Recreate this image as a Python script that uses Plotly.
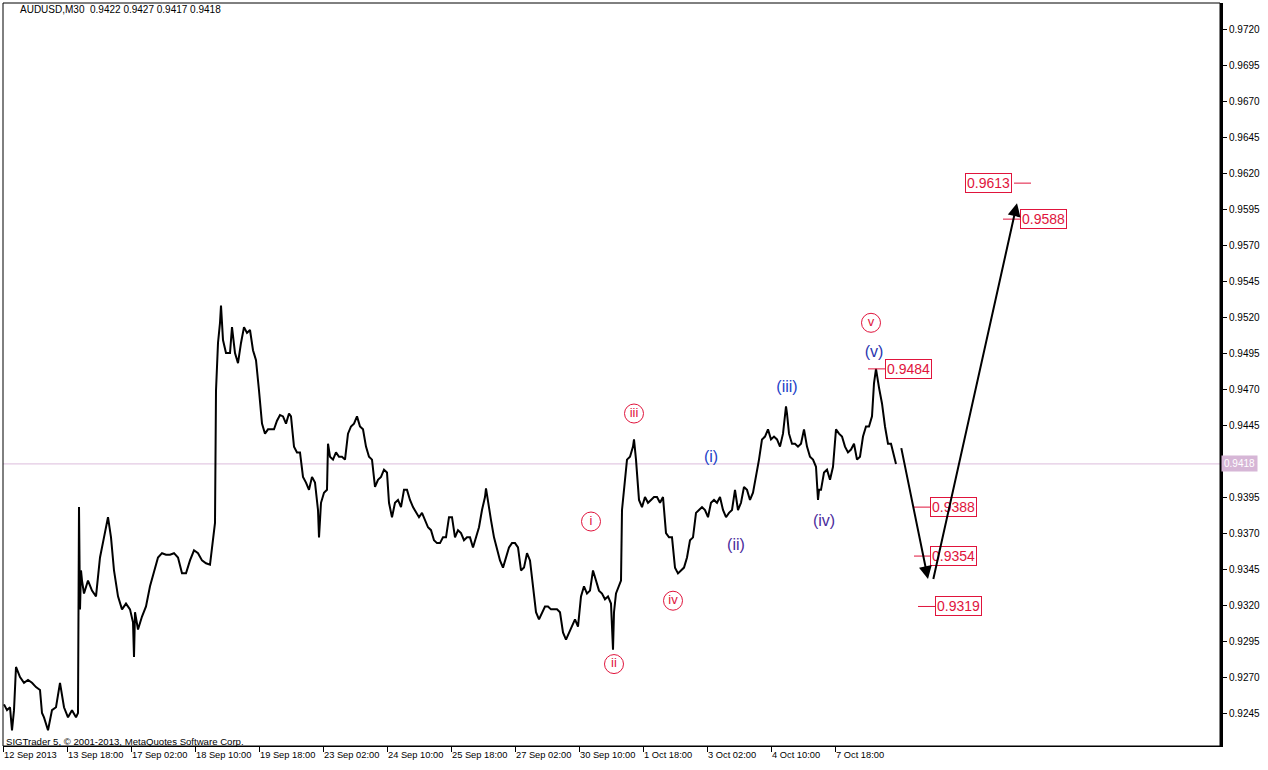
import plotly.graph_objects as go

# ---------------- data (AUDUSD M30) ----------------
# bar number (one bar = 30 minutes, counted from the left edge) and price
bars = [
    1, 4, 7, 9, 11, 13, 17, 21, 25, 29, 33, 37, 39, 41, 45, 49, 53, 57, 61, 65, 69, 73, 75,
    76, 77, 78, 79, 81, 85, 89, 93, 97, 101, 105, 108, 111, 115, 119, 123, 127, 130, 131, 132,
    135, 139, 143, 147, 151, 155, 159, 163, 167, 171, 175, 179, 183, 187, 191, 195, 199, 203,
    207, 210, 212,
    213, 215, 217, 218, 220, 223, 227, 229, 232, 235, 238, 241, 244, 247, 250, 253, 256, 259,
    262, 265, 268, 271, 274, 277, 280, 283, 286, 288, 291, 294, 297, 300, 303, 306, 309, 312,
    315, 316, 318, 321, 324, 325, 327, 330, 333, 336, 339, 342, 345, 348, 351, 354, 357, 360,
    363, 366, 369, 372, 375, 378, 381, 384, 386, 389, 392, 395, 398, 401, 404, 407, 410, 413,
    416, 419, 422, 425, 428, 431, 434, 437, 440, 443, 446, 449, 452, 455, 458, 461, 464, 467,
    470, 473, 476, 479, 482, 483, 485, 488, 491, 494, 497, 500, 503, 506, 509, 512, 515, 518,
    521, 524, 527, 530, 533, 536, 539, 542, 545, 548, 551, 554, 557, 560, 563, 566, 569, 572,
    575, 578, 581, 584, 587, 590, 593, 596, 599, 602, 605, 608, 610, 611, 613, 616, 618, 619,
    621, 624, 627, 630, 631, 633, 636, 639, 642, 645, 648, 651, 654, 657, 660, 663, 666, 669,
    672, 675, 678, 681, 684, 687, 690, 693, 696, 699, 702, 705, 708, 711, 714, 717, 720, 723,
    726, 729, 732, 735, 738, 741, 744, 747, 750, 753, 756, 759, 762, 765, 768, 771, 774, 777,
    780, 783, 784, 786, 789, 792, 795, 798, 801, 804, 807, 810, 813, 815, 816, 818, 821, 824,
    827, 830, 833, 836, 839, 842, 845, 848, 851, 854, 857, 860, 863, 866, 869, 871, 873, 876,
    879, 882, 885, 888, 891, 893,
]
price = [
    0.9251, 0.9247, 0.9249, 0.9233, 0.9247, 0.9277, 0.9270, 0.9266, 0.9268, 0.9266, 0.9263,
    0.9261, 0.9245, 0.9242, 0.9233, 0.9247, 0.9249, 0.9266, 0.9249, 0.9242, 0.9247, 0.9242,
    0.9245,
    0.9388, 0.9317, 0.9344, 0.9337, 0.9328, 0.9337, 0.9330, 0.9326, 0.9353, 0.9367, 0.9381,
    0.9367, 0.9344, 0.9326, 0.9317, 0.9321, 0.9317, 0.9308, 0.9284, 0.9315, 0.9303, 0.9312,
    0.9319, 0.9333, 0.9344, 0.9353, 0.9356, 0.9355, 0.9355, 0.9356, 0.9353, 0.9342, 0.9342,
    0.9351, 0.9358, 0.9356, 0.9351, 0.9349, 0.9348, 0.9365, 0.9377,
    0.9469, 0.9502, 0.9516, 0.9528, 0.9504, 0.9495, 0.9495, 0.9513, 0.9495, 0.9488, 0.9502,
    0.9513, 0.9509, 0.9511, 0.9497, 0.9490, 0.9469, 0.9446, 0.9439, 0.9442, 0.9442, 0.9442,
    0.9448, 0.9452, 0.9451, 0.9446, 0.9453, 0.9451, 0.9430, 0.9426, 0.9426, 0.9409, 0.9405,
    0.9400, 0.9409, 0.9405, 0.9386, 0.9367, 0.9391, 0.9398, 0.9400, 0.9432, 0.9423, 0.9421,
    0.9426, 0.9423, 0.9423, 0.9421, 0.9439, 0.9444, 0.9446, 0.9451, 0.9444, 0.9442, 0.9430,
    0.9423, 0.9421, 0.9402, 0.9407, 0.9409, 0.9414, 0.9412, 0.9391, 0.9381, 0.9391, 0.9393,
    0.9388, 0.9400, 0.9400, 0.9393, 0.9388, 0.9384, 0.9381, 0.9384, 0.9379, 0.9374, 0.9372,
    0.9365, 0.9363, 0.9363, 0.9367, 0.9367, 0.9381, 0.9381, 0.9367, 0.9372, 0.9370, 0.9365,
    0.9367, 0.9367, 0.9360, 0.9367, 0.9374, 0.9386, 0.9395, 0.9401, 0.9391, 0.9379, 0.9367,
    0.9358, 0.9351, 0.9346, 0.9353, 0.9360, 0.9363, 0.9363, 0.9360, 0.9344, 0.9346, 0.9356,
    0.9351, 0.9333, 0.9315, 0.9310, 0.9315, 0.9319, 0.9319, 0.9317, 0.9317, 0.9317, 0.9315,
    0.9301, 0.9296, 0.9301, 0.9305, 0.9310, 0.9305, 0.9326, 0.9333, 0.9328, 0.9330, 0.9344,
    0.9337, 0.9330, 0.9328, 0.9324, 0.9326, 0.9321, 0.9289, 0.9315, 0.9328, 0.9333, 0.9337,
    0.9386, 0.9400, 0.9421, 0.9423, 0.9430, 0.9435, 0.9421, 0.9393, 0.9388, 0.9395, 0.9391,
    0.9393, 0.9395, 0.9395, 0.9391, 0.9395, 0.9370, 0.9367, 0.9367, 0.9346, 0.9342, 0.9344,
    0.9346, 0.9353, 0.9365, 0.9367, 0.9384, 0.9386, 0.9388, 0.9386, 0.9381, 0.9391, 0.9393,
    0.9391, 0.9395, 0.9386, 0.9381, 0.9384, 0.9386, 0.9400, 0.9386, 0.9391, 0.9402, 0.9400,
    0.9393, 0.9398, 0.9409, 0.9421, 0.9435, 0.9437, 0.9442, 0.9435, 0.9437, 0.9435, 0.9430,
    0.9439, 0.9458, 0.9453, 0.9439, 0.9432, 0.9432, 0.9430, 0.9432, 0.9442, 0.9430, 0.9423,
    0.9421, 0.9416, 0.9393, 0.9400, 0.9400, 0.9412, 0.9414, 0.9407, 0.9416, 0.9442, 0.9439,
    0.9437, 0.9430, 0.9426, 0.9428, 0.9432, 0.9421, 0.9423, 0.9437, 0.9444, 0.9444, 0.9451,
    0.9474, 0.9484, 0.9471, 0.9460, 0.9444, 0.9432, 0.9432, 0.9423, 0.9418,
]

last_price = 0.9418
title_text = "AUDUSD,M30  0.9422 0.9427 0.9417 0.9418"
footer_text = "SIGTrader 5, \u00a9 2001-2013, MetaQuotes Software Corp."

time_labels = ["12 Sep 2013", "13 Sep 18:00", "17 Sep 02:00", "18 Sep 10:00", "19 Sep 18:00",
               "23 Sep 02:00", "24 Sep 10:00", "25 Sep 18:00", "27 Sep 02:00", "30 Sep 10:00",
               "1 Oct 18:00", "3 Oct 02:00", "4 Oct 10:00", "7 Oct 18:00"]
bars_per_label = 64
price_ticks = [0.9245, 0.9270, 0.9295, 0.9320, 0.9345, 0.9370, 0.9395, 0.9445, 0.9470,
               0.9495, 0.9520, 0.9545, 0.9570, 0.9595, 0.9620, 0.9645, 0.9670, 0.9695, 0.9720]

# Elliott wave labels (minor, red circled) and (minute, blue)
minor_labels = ["i", "ii", "iii", "iv", "v"]
minor_bar = [588, 611, 631, 670, 868]
minor_price = [0.9378, 0.9279, 0.9453, 0.9323, 0.9516]

minute_labels = ["(i)", "(ii)", "(iii)", "(iv)", "(v)"]
minute_bar = [708, 733, 784, 821, 871]
minute_price = [0.9422, 0.9361, 0.9471, 0.9378, 0.9495]
minute_colors = ["#2442c8", "#4b2c9c", "#2442c8", "#4b2c9c", "#2a37b0"]

# target levels: price, start/end bar of the tick line, bar of the label box's left edge
level_price = [0.9484, 0.9613, 0.9588, 0.9388, 0.9354, 0.9319]
level_line_from = [865, 1011, 1000, 911, 911, 915]
level_line_to = [882, 1028, 1017, 927, 927, 932]
level_box_left = [882, 962, 1017, 927, 927, 932]

# projected path (two arrows)
proj_down_bar = [898, 925]
proj_down_price = [0.9430, 0.9338]
proj_up_bar = [930, 1014]
proj_up_price = [0.9337, 0.9599]

# ---------------- figure ----------------
RED = "#e0143c"
FONT = "Liberation Sans"
y_min, y_max = 0.92221, 0.97381
x_min, x_max = 0, 1217

fig = go.Figure()
fig.add_trace(go.Scatter(x=bars, y=price, mode="lines",
                         line=dict(color="black", width=2), hoverinfo="skip"))

# minor wave circles
fig.add_trace(go.Scatter(x=minor_bar, y=minor_price, mode="markers+text",
                         marker=dict(symbol="circle-open", size=19, color=RED,
                                     line=dict(width=1, color=RED)),
                         text=minor_labels, textposition="middle center",
                         textfont=dict(family=FONT, size=13, color=RED), hoverinfo="skip"))
# minute wave labels
fig.add_trace(go.Scatter(x=minute_bar, y=minute_price, mode="text",
                         text=minute_labels, textposition="middle center",
                         textfont=dict(family=FONT, size=16, color=minute_colors),
                         hoverinfo="skip"))

shapes = []
annotations = []
# last price line
shapes.append(dict(type="line", xref="paper", yref="y", x0=0, x1=1, y0=last_price, y1=last_price,
                   line=dict(color="#dcbcdc", width=1), layer="below"))
# frame
shapes.append(dict(type="rect", xref="paper", yref="paper", x0=0, x1=1, y0=0, y1=1,
                   line=dict(color="black", width=1)))

for p, a, b, bl in zip(level_price, level_line_from, level_line_to, level_box_left):
    shapes.append(dict(type="line", xref="x", yref="y", x0=a, x1=b, y0=p, y1=p,
                       line=dict(color=RED, width=1)))
    annotations.append(dict(x=bl, y=p, xref="x", yref="y", text=f"{p:.4f}", showarrow=False,
                            xanchor="left", yanchor="middle",
                            font=dict(family=FONT, size=14, color=RED),
                            bordercolor=RED, borderwidth=1, borderpad=1, bgcolor="white"))

for bx, py in ((proj_down_bar, proj_down_price), (proj_up_bar, proj_up_price)):
    annotations.append(dict(x=bx[1], y=py[1], ax=bx[0], ay=py[0], xref="x", yref="y",
                            axref="x", ayref="y", text="", showarrow=True, arrowhead=2,
                            arrowsize=1.3, arrowwidth=2, arrowcolor="black", standoff=0))

annotations.append(dict(x=15 / 1217, y=0.9906, xref="paper", yref="paper", text=title_text,
                        showarrow=False, xanchor="left", yanchor="middle",
                        font=dict(family=FONT, size=10, color="black")))
annotations.append(dict(x=0.0005, y=0.0065, xref="paper", yref="paper", text=footer_text,
                        showarrow=False, xanchor="left", yanchor="middle",
                        font=dict(family=FONT, size=9.6, color="black")))
annotations.append(dict(x=1.0, y=last_price, xref="paper", yref="y", text=f"{last_price:.4f}",
                        showarrow=False, xanchor="left", yanchor="middle", xshift=1,
                        font=dict(family=FONT, size=10, color="white"),
                        bgcolor="#d6b6d6", borderpad=2))

fig.update_layout(
    width=1268, height=770,
    margin=dict(l=3, r=48, t=3, b=24, autoexpand=False),
    paper_bgcolor="white", plot_bgcolor="white",
    showlegend=False,
    shapes=shapes, annotations=annotations,
    xaxis=dict(range=[x_min, x_max], showgrid=False, zeroline=False,
               tickvals=[i * bars_per_label for i in range(len(time_labels))],
               ticktext=time_labels, ticks="outside", ticklen=5, tickcolor="black",
               ticklabelposition="outside right", tickangle=0, automargin=False,
               tickfont=dict(family=FONT, size=9.3, color="black"),
               showline=True, linecolor="black", linewidth=1, fixedrange=True),
    yaxis=dict(range=[y_min, y_max], side="right", showgrid=False, zeroline=False,
               tickvals=price_ticks, ticktext=[f"{t:.4f}" for t in price_ticks],
               ticks="outside", ticklen=4, tickcolor="black", automargin=False,
               tickfont=dict(family=FONT, size=10, color="black"),
               showline=True, linecolor="black", linewidth=3, fixedrange=True),
)

fig.write_html("out.html", config={"displayModeBar": False, "staticPlot": True},
               post_script="document.body.style.margin='0px';document.body.style.overflow='hidden';")
